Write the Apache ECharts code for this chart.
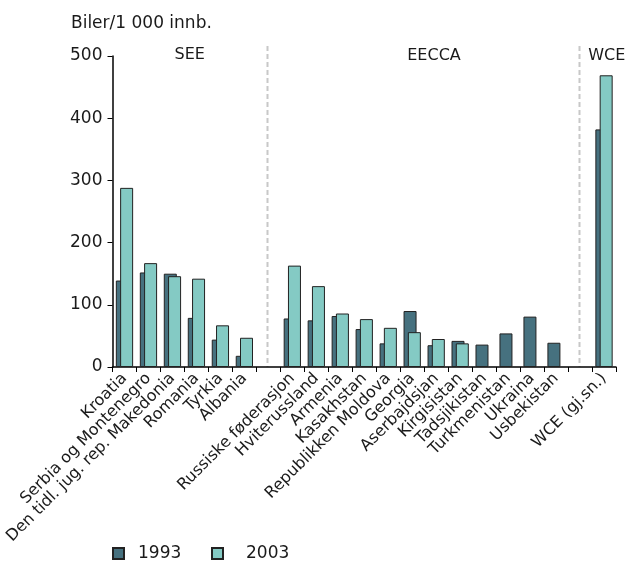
<!DOCTYPE html>
<html>
<head>
<meta charset="utf-8">
<script src="https://cdn.jsdelivr.net/npm/echarts@6/dist/echarts.min.js"></script>
<style>
  html, body { margin: 0; padding: 0; background: #fff; }
  #chart { width: 628px; height: 564px; }
</style>
</head>
<body>
<div id="chart"></div>
<script>
const categories = [
  'Kroatia', 'Serbia og Montenegro', 'Den tidl. jug. rep. Makedonia', 'Romania', 'Tyrkia', 'Albania',
  ' ',
  'Russiske føderasjon', 'Hviterussland', 'Armenia', 'Kasakhstan', 'Republikken Moldova', 'Georgia',
  'Aserbajdsjan', 'Kirgisistan', 'Tadsjikistan', 'Turkmenistan', 'Ukraina', 'Usbekistan',
  '  ',
  'WCE (gj.sn.)'
];
const values1993 = [139, 152, 150, 79, 44, 18, null, 78, 75, 82, 61, 38, 90, 35, 42, 36, 54, 81, 39, null, 382];
const values2003 = [288, 167, 146, 142, 67, 47, null, 163, 130, 86, 77, 63, 56, 45, 38, null, null, null, null, null, 469];
const yTicks = [0, 100, 200, 300, 400, 500];
const groupLabels = ['SEE', 'EECCA', 'WCE'];
const separatorIndices = [6, 19];

const FONT = 'DejaVu Sans';
const TXT = '#1a1a1a';

const chart = echarts.init(document.getElementById('chart'));
const option = {
  animation: false,
  backgroundColor: '#ffffff',
  title: {
    text: 'Biler/1 000 innb.',
    left: 66, top: 10,
    textStyle: { fontFamily: FONT, fontSize: 17, fontWeight: 'normal', color: TXT }
  },
  grid: { left: 112.5, right: 12, top: 56, bottom: 197, containLabel: false },
  legend: [
    {
      data: [{ name: '1993', icon: 'rect' }], left: 112, top: 545, padding: 0,
      itemWidth: 11, itemHeight: 11,
      textStyle: { fontFamily: FONT, fontSize: 17, color: TXT, padding: [0, 0, 0, 9] }
    },
    {
      data: [{ name: '2003', icon: 'rect' }], left: 211, top: 545, padding: 0,
      itemWidth: 11, itemHeight: 11,
      textStyle: { fontFamily: FONT, fontSize: 17, color: TXT, padding: [0, 0, 0, 18] }
    }
  ],
  xAxis: {
    type: 'category',
    data: categories,
    axisLine: { lineStyle: { color: '#000', width: 1.5 } },
    axisTick: { show: true, alignWithLabel: false, length: 5, lineStyle: { color: '#000' } },
    axisLabel: {
      interval: 0, rotate: 45, margin: 9,
      fontFamily: FONT, fontSize: 16, color: TXT
    },
    splitLine: { show: false }
  },
  yAxis: {
    type: 'value',
    min: yTicks[0], max: yTicks[yTicks.length - 1], interval: yTicks[1] - yTicks[0],
    axisLine: { show: true, lineStyle: { color: '#000', width: 1.5 } },
    axisTick: { show: true, length: 5, lineStyle: { color: '#000' } },
    axisLabel: { margin: 10, fontFamily: FONT, fontSize: 17, color: TXT },
    splitLine: { show: false }
  },
  series: [
    {
      name: '1993', type: 'bar', data: values1993,
      barWidth: 13, barGap: '-67%',
      itemStyle: { color: '#46717f', borderColor: '#222', borderWidth: 1 }
    },
    {
      name: '2003', type: 'bar', data: values2003,
      barWidth: 13, barGap: '-67%',
      itemStyle: { color: '#84cac4', borderColor: '#222', borderWidth: 1 }
    }
  ]
};
chart.setOption(option);

// separators and group labels placed from the library's own scales
const y0 = chart.convertToPixel({ yAxisIndex: 0 }, 0);
const yTop = chart.convertToPixel({ yAxisIndex: 0 }, 500);
const graphics = separatorIndices.map(function (idx) {
  const x = Math.round(chart.convertToPixel({ xAxisIndex: 0 }, idx)) - 0.5;
  return {
    type: 'line', z: 0, silent: true,
    shape: { x1: x, y1: yTop - 10, x2: x, y2: y0 },
    style: { stroke: '#c8c8c8', lineWidth: 2, lineDash: [5, 3] }
  };
});
const labelPos = [[189.7, 55], [434, 56], [606.7, 56]];
groupLabels.forEach(function (t, i) {
  graphics.push({
    type: 'text', silent: true,
    x: labelPos[i][0], y: labelPos[i][1],
    style: {
      text: t, fontFamily: FONT, fontSize: 16, fill: TXT,
      textAlign: 'center', textVerticalAlign: 'middle'
    }
  });
});
chart.setOption({ graphic: graphics });
</script>
</body>
</html>
